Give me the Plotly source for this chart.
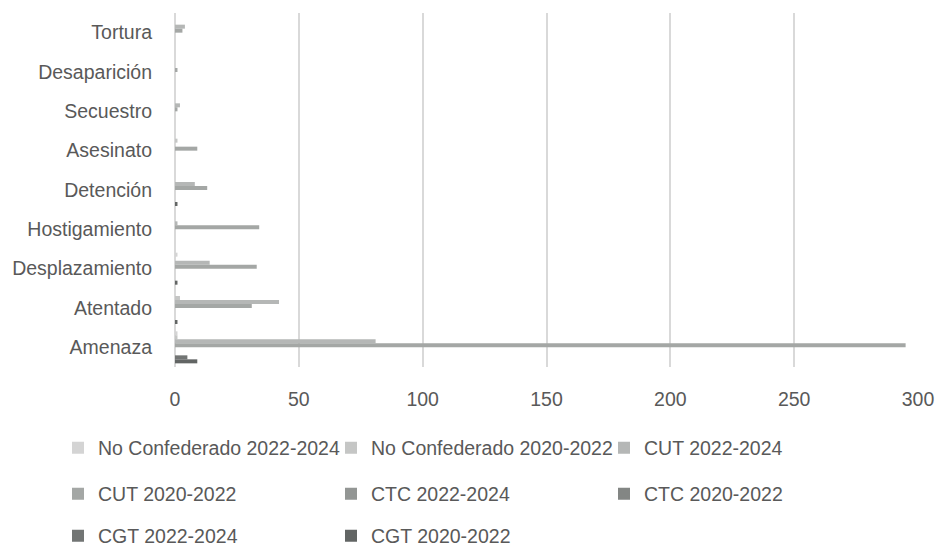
import plotly.graph_objects as go

# Categories, listed from top to bottom of the chart
categories = ["Tortura", "Desaparición", "Secuestro", "Asesinato", "Detención",
              "Hostigamiento", "Desplazamiento", "Atentado", "Amenaza"]

# Series values (one entry per category, same order as above)
no_conf_2022_2024 = [0, 0, 0, 0, 0, 0, 1, 0, 1]
no_conf_2020_2022 = [0, 0, 0, 1, 0, 0, 0, 2, 1]
cut_2022_2024 = [4, 0, 2, 0, 8, 1, 14, 42, 81]
cut_2020_2022 = [3, 1, 1, 9, 13, 34, 33, 31, 295]
ctc_2022_2024 = [0, 0, 0, 0, 0, 0, 0, 0, 0]
ctc_2020_2022 = [0, 0, 0, 0, 0, 0, 0, 0, 0]
cgt_2022_2024 = [0, 0, 0, 0, 0, 0, 0, 0, 5]
cgt_2020_2022 = [0, 0, 0, 0, 1, 0, 1, 1, 9]

series_names = ["No Confederado 2022-2024", "No Confederado 2020-2022", "CUT 2022-2024",
                "CUT 2020-2022", "CTC 2022-2024", "CTC 2020-2022",
                "CGT 2022-2024", "CGT 2020-2022"]
series_values = [no_conf_2022_2024, no_conf_2020_2022, cut_2022_2024, cut_2020_2022,
                 ctc_2022_2024, ctc_2020_2022, cgt_2022_2024, cgt_2020_2022]
series_colors = ["#d4d4d4", "#c5c6c5", "#b5b7b6", "#a4a7a5",
                 "#939694", "#838684", "#727574", "#626564"]

x_ticks = [0, 50, 100, 150, 200, 250, 300]

FONT = "Liberation Sans, Arial, sans-serif"
TEXT_COLOR = "#595959"
GRID = "#d9d9d9"

W, H = 946, 548
# legend grid: three entries per row
LEGEND_COLS_PX = [58, 331, 604]
LEGEND_ROWS_PX = [448, 494, 536]

fig = go.Figure()
legend_layouts = {}
for i, (name, vals, col) in enumerate(zip(series_names, series_values, series_colors)):
    key = "legend" if i == 0 else f"legend{i + 1}"
    fig.add_trace(go.Bar(
        y=categories, x=vals, name=name, orientation="h",
        marker=dict(color=col, line=dict(width=0)),
        legend=key, showlegend=True,
    ))
    row, colnum = divmod(i, 3)
    legend_layouts[key] = dict(
        orientation="h", xref="container", yref="container",
        xanchor="left", yanchor="middle",
        x=LEGEND_COLS_PX[colnum] / W, y=1 - LEGEND_ROWS_PX[row] / H,
        font=dict(family=FONT, size=19.5, color=TEXT_COLOR),
        bgcolor="rgba(0,0,0,0)", visible=True,
    )

fig.update_layout(
    width=W, height=H, showlegend=True,
    margin=dict(l=175, r=18, t=13, b=181),
    barmode="group", bargap=0.186, bargroupgap=0,
    plot_bgcolor="white", paper_bgcolor="white",
    font=dict(family=FONT, size=19.5, color=TEXT_COLOR),
    xaxis=dict(
        range=[0, 300], tickvals=x_ticks, ticktext=[str(v) for v in x_ticks],
        showgrid=True, gridcolor=GRID, gridwidth=2,
        zeroline=True, zerolinecolor=GRID, zerolinewidth=2,
        showline=False, ticks="", ticklabelstandoff=18,
        tickfont=dict(family=FONT, size=19.5, color=TEXT_COLOR),
    ),
    yaxis=dict(
        type="category", categoryorder="array", categoryarray=categories,
        autorange="reversed", showgrid=False, zeroline=False, showline=False,
        ticks="", ticklabelstandoff=22,
        tickfont=dict(family=FONT, size=19.5, color=TEXT_COLOR),
    ),
    **legend_layouts,
)

fig.write_html("out.html")
